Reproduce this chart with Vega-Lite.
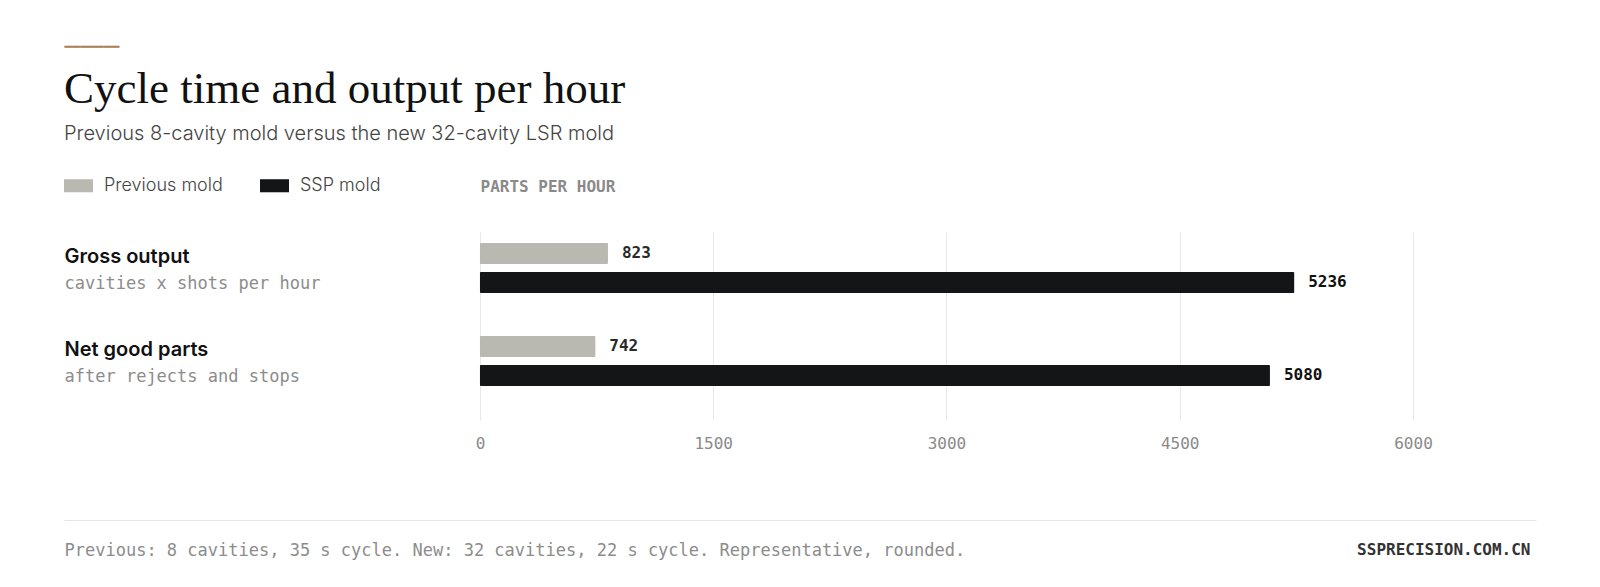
{
  "$schema": "https://vega.github.io/schema/vega-lite/v6.json",
  "autosize": "none",
  "width": 1472,
  "height": 188,
  "padding": {"left": 64, "top": 232, "right": 64, "bottom": 167},
  "background": "white",
  "title": {
    "text": "Cycle time and output per hour",
    "subtitle": "Previous 8-cavity mold versus the new 32-cavity LSR mold",
    "anchor": "start",
    "frame": "group",
    "orient": "top",
    "offset": -103,
    "font": "Liberation Serif",
    "fontSize": 45,
    "fontWeight": "normal",
    "color": "#111111",
    "subtitleFont": "Inter",
    "subtitleFontSize": 20,
    "subtitleFontWeight": 300,
    "subtitleColor": "#444444",
    "subtitlePadding": 12
  },
  "data": {
    "values": [
      {"metric": "Gross output", "series": "Previous mold", "value": 823},
      {"metric": "Gross output", "series": "SSP mold", "value": 5236},
      {"metric": "Net good parts", "series": "Previous mold", "value": 742},
      {"metric": "Net good parts", "series": "SSP mold", "value": 5080}
    ]
  },
  "layer": [
    {
      "mark": {"type": "bar", "cornerRadius": 1},
      "encoding": {
        "y": {
          "field": "metric",
          "type": "nominal",
          "scale": {"paddingInner": 0.462, "paddingOuter": 0.2418, "align": 0.244},
          "axis": {
            "orient": "left",
            "domain": false,
            "ticks": false,
            "tickSize": 0,
            "labelAlign": "left",
            "labelBaseline": "alphabetic",
            "labelPadding": 0,
            "labelOffset": -5,
            "labelFont": "Inter",
            "labelFontSize": 20,
            "labelFontWeight": 600,
            "labelColor": "#111111",
            "labelLimit": 0,
            "title": "━━━━━━━",
            "titleAngle": 0,
            "titleX": 0,
            "titleY": -185.5,
            "titleAlign": "left",
            "titleBaseline": "middle",
            "titleFont": "DejaVu Sans Mono",
            "titleFontSize": 13,
            "titleFontWeight": "normal",
            "titleColor": "#a67f56"
          }
        },
        "yOffset": {
          "field": "series",
          "type": "nominal",
          "scale": {"paddingInner": 0.276, "paddingOuter": 0}
        },
        "x": {
          "field": "value",
          "type": "quantitative",
          "stack": null,
          "scale": {"domain": [-2675, 6791], "nice": false, "zero": false},
          "axis": {
            "orient": "bottom",
            "values": [0, 1500, 3000, 4500, 6000],
            "format": "d",
            "grid": true,
            "gridColor": "#e8e8e8",
            "domain": false,
            "ticks": false,
            "labelFont": "DejaVu Sans Mono",
            "labelFontSize": 16,
            "labelColor": "#8a8a8a",
            "labelPadding": 15,
            "labelFlush": false,
            "title": "Previous: 8 cavities, 35 s cycle. New: 32 cavities, 22 s cycle. Representative, rounded.",
            "titleX": 0,
            "titleY": 135,
            "titleAlign": "left",
            "titleBaseline": "alphabetic",
            "titleFont": "DejaVu Sans Mono",
            "titleFontSize": 17,
            "titleFontWeight": "normal",
            "titleColor": "#8c8c8c"
          }
        },
        "color": {
          "field": "series",
          "type": "nominal",
          "scale": {"domain": ["Previous mold", "SSP mold"], "range": ["#b9b8b1", "#141516"]},
          "legend": {"title": null}
        }
      }
    },
    {
      "transform": [{"filter": "datum.series == 'Previous mold'"}],
      "mark": {"type": "text", "align": "left", "baseline": "middle", "dx": 14, "font": "DejaVu Sans Mono", "fontSize": 16, "fontWeight": "bold", "color": "#2a2a2a"},
      "encoding": {
        "y": {
          "field": "metric",
          "type": "nominal",
          "axis": {
            "orient": "left",
            "domain": false,
            "ticks": false,
            "tickSize": 0,
            "labelExpr": "datum.value == 'Gross output' ? 'cavities x shots per hour' : 'after rejects and stops'",
            "labelAlign": "left",
            "labelBaseline": "alphabetic",
            "labelPadding": 0,
            "labelOffset": 21,
            "labelFont": "DejaVu Sans Mono",
            "labelFontSize": 17,
            "labelColor": "#8c8c8c",
            "labelLimit": 0,
            "title": "SSPRECISION.COM.CN",
            "titleAngle": 0,
            "titleX": 1466,
            "titleY": 322,
            "titleAlign": "right",
            "titleBaseline": "alphabetic",
            "titleFont": "DejaVu Sans Mono",
            "titleFontSize": 16,
            "titleFontWeight": "bold",
            "titleColor": "#333333"
          }
        },
        "yOffset": {"field": "series", "type": "nominal"},
        "x": {
          "field": "value",
          "type": "quantitative",
          "stack": null,
          "scale": {"domain": [-2675, 6791], "nice": false, "zero": false},
          "axis": {
            "orient": "top",
            "labels": false,
            "ticks": false,
            "domain": false,
            "grid": false,
            "title": "PARTS PER HOUR",
            "titleX": 416,
            "titleY": -41,
            "titleAlign": "left",
            "titleBaseline": "alphabetic",
            "titleFont": "DejaVu Sans Mono",
            "titleFontSize": 16,
            "titleFontWeight": "bold",
            "titleColor": "#8a8a8a"
          }
        },
        "text": {"field": "value", "type": "quantitative", "format": "d"}
      }
    },
    {
      "transform": [{"filter": "datum.series == 'SSP mold'"}],
      "mark": {"type": "text", "align": "left", "baseline": "middle", "dx": 14, "font": "DejaVu Sans Mono", "fontSize": 16, "fontWeight": "bold", "color": "#111111"},
      "encoding": {
        "y": {"field": "metric", "type": "nominal", "axis": null},
        "yOffset": {"field": "series", "type": "nominal"},
        "x": {
          "field": "value",
          "type": "quantitative",
          "stack": null,
          "scale": {"domain": [-2675, 6791], "nice": false, "zero": false},
          "axis": {
            "orient": "bottom",
            "offset": 100,
            "labels": false,
            "ticks": false,
            "grid": false,
            "domain": true,
            "domainColor": "#e6e6e6",
            "domainWidth": 1,
            "title": null
          }
        },
        "text": {"field": "value", "type": "quantitative", "format": "d"}
      }
    }
  ],
  "resolve": {"axis": {"x": "independent", "y": "independent"}},
  "config": {
    "view": {"stroke": null},
    "legend": {
      "orient": "none",
      "legendX": 0,
      "legendY": -61,
      "direction": "horizontal",
      "padding": 0,
      "symbolType": "M-1,-0.45L1,-0.45L1,0.45L-1,0.45Z",
      "symbolSize": 841,
      "symbolStrokeWidth": 0,
      "symbolOpacity": 1,
      "labelFont": "Inter",
      "labelFontSize": 18,
      "labelFontWeight": 300,
      "labelColor": "#444444",
      "labelOffset": 11,
      "columnPadding": 37
    }
  }
}
